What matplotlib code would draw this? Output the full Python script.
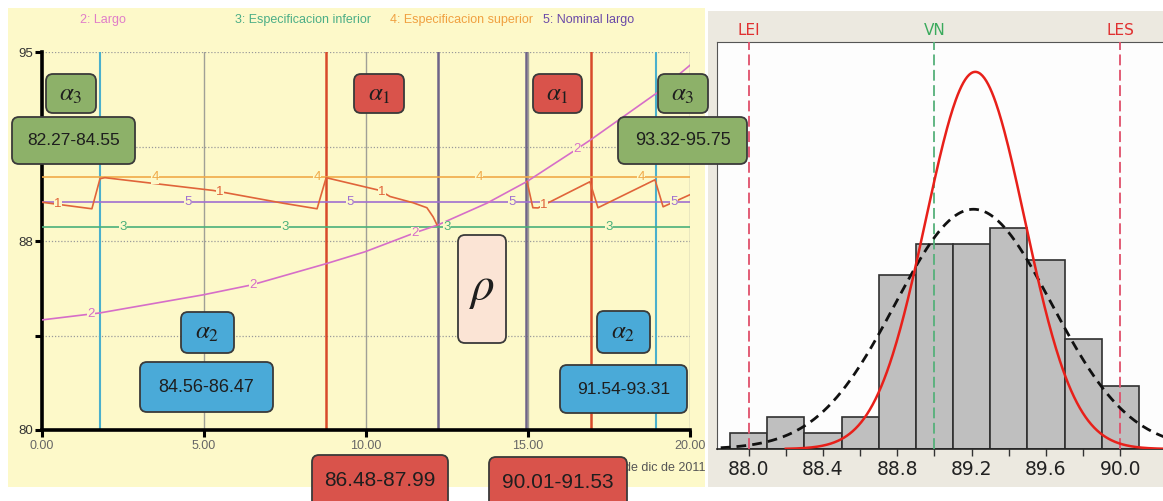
import matplotlib.pyplot as plt
import numpy as np
from matplotlib.patches import FancyBboxPatch, Rectangle
from matplotlib.transforms import blended_transform_factory

W, H = 1163, 501

plt.rcParams["font.family"] = ["Liberation Sans", "DejaVu Sans"]
plt.rcParams["mathtext.fontset"] = "stix"

# ---------------------------------------------------------------------------
# Left panel: simulation over days (levels in grid units, 80 .. 95 scale)
# ---------------------------------------------------------------------------
Y_TICK_LABELS = ["80", "", "88", "", "95"]
X_TICKS = [0, 5, 10, 15, 20]

# 1: measured length (sawtooth), drawn as two pieces
MEDIDO_T_A = [0.0, 1.54, 1.79, 1.94, 5.28, 7.44, 8.49, 8.77, 10.43, 10.74, 11.45, 11.88, 12.07, 12.19]
MEDIDO_L_A = [2.41, 2.341, 2.659, 2.67, 2.535, 2.40, 2.341, 2.67, 2.535, 2.471, 2.405, 2.352, 2.256, 2.172]
MEDIDO_T_B = [14.97, 15.15, 15.31, 16.91, 17.16, 18.92, 19.17, 20.0]
MEDIDO_L_B = [2.63, 2.352, 2.35, 2.627, 2.352, 2.648, 2.362, 2.49]

# 2: Largo
LARGO_T = [0.0, 1.79, 4.97, 6.48, 8.77, 9.97, 11.51, 12.22, 13.73, 14.97, 16.45, 16.93, 18.95, 20.0]
LARGO_L = [1.165, 1.239, 1.43, 1.536, 1.76, 1.886, 2.087, 2.17, 2.40, 2.63, 2.96, 3.07, 3.56, 3.86]

# 3, 4, 5: constant references
SPEC_INF = 2.143
SPEC_SUP = 2.673
NOMINAL = 2.412

EVENTS_BLUE = [1.79, 18.95]
EVENTS_RED = [8.77, 16.93]
EVENTS_PURPLE = [12.22, 14.94]

LEGEND_TEXT = ["2: Largo", "3: Especificacion inferior",
               "4: Especificacion superior", "5: Nominal largo"]
X_CAPTION = "de dic de 2011"

# ---------------------------------------------------------------------------
# Right panel: histogram of length with two normal fits
# ---------------------------------------------------------------------------
BIN_CENTERS = [88.0, 88.2, 88.4, 88.6, 88.8, 89.0, 89.2, 89.4, 89.6, 89.8, 90.0]
COUNTS = [1, 2, 1, 2, 11, 13, 13, 14, 12, 7, 4]
BIN_WIDTH = 0.2
FIT_NARROW = (89.22, 0.267)
FIT_WIDE = (89.21, 0.42)
LIMIT_NAMES = ["LEI", "VN", "LES"]
LIMIT_VALUES = [88.0, 89.0, 90.0]
HIST_TICKS = [88.0, 88.4, 88.8, 89.2, 89.6, 90.0]

# ---------------------------------------------------------------------------
# Annotation boxes (text, colour key)
# ---------------------------------------------------------------------------
BOX_TEXTS = [r"$\alpha_\mathit{3}$", "82.27-84.55", r"$\alpha_\mathit{1}$", r"$\alpha_\mathit{1}$",
             r"$\alpha_\mathit{3}$", "93.32-95.75", r"$\alpha_\mathit{2}$", "84.56-86.47",
             r"$\rho$", r"$\alpha_\mathit{2}$", "91.54-93.31", "86.48-87.99", "90.01-91.53"]
BOX_KINDS = ["g", "g", "r", "r", "g", "g", "b", "b", "p", "b", "b", "r", "r"]

BOX_COLORS = {"g": "#8db169", "r": "#d9534b", "b": "#4aaad8", "p": "#fbe4d5"}
# x0, y0, x1, y1 in pixels, font size
BOX_GEOM = [
    (46, 74, 96, 113, 18), (12, 117, 135, 164, 12.5),
    (354, 74, 404, 113, 18), (533, 74, 582, 113, 18), (658, 74, 708, 113, 18),
    (618, 117, 747, 164, 13), (181, 312, 234, 353, 18), (140, 362, 273, 412, 13),
    (458, 235, 506, 343, 34), (597, 311, 650, 353, 18), (560, 365, 687, 413, 12.5),
    (312, 455, 448, 515, 15), (489, 457, 627, 515, 15),
]


def frac(x0, y0, x1, y1):
    return [x0 / W, 1 - y1 / H, (x1 - x0) / W, (y1 - y0) / H]


fig = plt.figure(figsize=(W / 100, H / 100), dpi=100)

# panel backgrounds
bg = fig.add_axes([0, 0, 1, 1], zorder=0)
bg.set_xlim(0, W)
bg.set_ylim(H, 0)
bg.axis("off")
bg.add_patch(Rectangle((8, 8), 697, 479, facecolor="#fdf9c9", edgecolor="none"))
bg.add_patch(Rectangle((708, 11), W - 708, 476, facecolor="#ece9e0", edgecolor="none"))

legend_colors = ["#e07dc8", "#4bae86", "#f0a040", "#6a4aa8"]
legend_x = [80, 235, 390, 543]
for txt, col, lx in zip(LEGEND_TEXT, legend_colors, legend_x):
    bg.text(lx, 20, txt, color=col, fontsize=9, va="center", ha="left")
bg.text(705, 468, X_CAPTION, color="#555555", fontsize=9, va="center", ha="right")

# ---- left simulation chart
ax = fig.add_axes(frac(42, 52, 690, 430), zorder=2)
ax.set_facecolor("none")
ax.set_xlim(0, 20)
ax.set_ylim(0, 4)

for lv in [1, 2, 3, 4]:
    ax.axhline(lv, color="#9a9a9a", ls=(0, (1, 1.5)), lw=0.9, zorder=1)
for gx in [5, 10, 15, 20]:
    ax.axvline(gx, color="#a0a096", lw=1.0, zorder=1)
for ex in EVENTS_BLUE:
    ax.axvline(ex, color="#4ab0cc", lw=1.5, zorder=2)
for ex in EVENTS_RED:
    ax.axvline(ex, color="#d84a2a", lw=1.8, zorder=2)
for ex in EVENTS_PURPLE:
    ax.axvline(ex, color="#6e6488", lw=1.8, zorder=2)

c1, c2, c3, c4, c5 = "#e0643a", "#d66ec8", "#4bb07a", "#f0aa48", "#a070d0"
ax.axhline(SPEC_INF, color=c3, lw=1.2, zorder=3)
ax.axhline(SPEC_SUP, color=c4, lw=1.2, zorder=3)
ax.axhline(NOMINAL, color=c5, lw=1.2, zorder=3)
ax.plot(LARGO_T, LARGO_L, color=c2, lw=1.2, zorder=3)
ax.plot(MEDIDO_T_A, MEDIDO_L_A, color=c1, lw=1.2, zorder=3)
ax.plot(MEDIDO_T_B, MEDIDO_L_B, color=c1, lw=1.2, zorder=3)


def series_value(key, t):
    if key == 1:
        if t <= MEDIDO_T_A[-1]:
            return np.interp(t, MEDIDO_T_A, MEDIDO_L_A)
        return np.interp(t, MEDIDO_T_B, MEDIDO_L_B)
    if key == 2:
        return np.interp(t, LARGO_T, LARGO_L)
    return {3: SPEC_INF, 4: SPEC_SUP, 5: NOMINAL}[key]


for key, col in zip([1, 2, 3, 4, 5], [c1, c2, c3, c4, c5]):
    for k in range(4):
        t = key - 0.5 + 5 * k
        ax.text(t, series_value(key, t), str(key), color=col, fontsize=9.5,
                ha="center", va="center", zorder=4,
                bbox=dict(facecolor="#fdf9c9", edgecolor="none", pad=0.3))

ax.set_yticks(range(5))
ax.set_yticklabels(Y_TICK_LABELS)
ax.set_xticks(X_TICKS)
ax.set_xticklabels([f"{t:.2f}" for t in X_TICKS])
for side in ["top", "right"]:
    ax.spines[side].set_visible(False)
for side in ["left", "bottom"]:
    ax.spines[side].set_linewidth(2.6)
ax.tick_params(axis="both", direction="out", length=5, width=2.2)
ax.tick_params(axis="y", labelsize=9.5, labelcolor="#333333", pad=1.5)
ax.tick_params(axis="x", labelsize=9, labelcolor="#666666", pad=2)

# ---- right histogram
axh = fig.add_axes(frac(717, 42, W, 449), zorder=2)
axh.set_facecolor("#fdfdfd")
axh.set_xlim(87.83, 90.23)
axh.set_ylim(0, 25.8)
axh.bar(BIN_CENTERS, COUNTS, width=BIN_WIDTH, color="#bfbfbf",
        edgecolor="#303030", linewidth=1.2, zorder=2)

scale = sum(COUNTS) * BIN_WIDTH
xs = np.linspace(87.85, 90.25, 400)
mu, sd = FIT_WIDE
axh.plot(xs, scale * np.exp(-0.5 * ((xs - mu) / sd) ** 2) / (sd * np.sqrt(2 * np.pi)),
         color="#111111", lw=2.0, ls=(0, (3.5, 2.2)), zorder=4)
xs_r = np.linspace(88.2, 90.25, 400)
mu, sd = FIT_NARROW
axh.plot(xs_r, scale * np.exp(-0.5 * ((xs_r - mu) / sd) ** 2) / (sd * np.sqrt(2 * np.pi)),
         color="#e8201a", lw=1.8, zorder=5)

trans = blended_transform_factory(axh.transData, axh.transAxes)
limit_colors = ["#e0506a", "#55b07a", "#e0506a"]
label_colors = ["#e03030", "#3aaa5c", "#e03030"]
for name, val, lc, tc in zip(LIMIT_NAMES, LIMIT_VALUES, limit_colors, label_colors):
    axh.axvline(val, color=lc, lw=1.3, ls=(0, (6, 2.5)), zorder=3)
    axh.text(val, 1.028, name, transform=trans, color=tc, fontsize=11,
             family="DejaVu Sans", ha="center", va="center")

axh.set_xticks(HIST_TICKS)
axh.set_xticklabels([f"{t:.1f}" for t in HIST_TICKS], family="DejaVu Sans")
axh.set_xticks(np.array(HIST_TICKS[:-1]) + 0.2, minor=True)
axh.set_yticks([])
axh.spines["right"].set_visible(False)
axh.spines["top"].set_color("#555555")
axh.spines["left"].set_color("#555555")
axh.spines["bottom"].set_color("#222222")
axh.spines["bottom"].set_linewidth(1.2)
axh.tick_params(axis="x", which="both", direction="out", length=5, width=1,
                color="#333333", labelsize=13.5, labelcolor="#222222", pad=3)

# ---- annotation boxes on top of both panels
ov = fig.add_axes([0, 0, 1, 1], zorder=10)
ov.set_xlim(0, W)
ov.set_ylim(H, 0)
ov.axis("off")
ov.patch.set_visible(False)
for txt, kind, (x0, y0, x1, y1, fs) in zip(BOX_TEXTS, BOX_KINDS, BOX_GEOM):
    ov.add_patch(FancyBboxPatch((x0, y0), x1 - x0, y1 - y0,
                                boxstyle="round,pad=0,rounding_size=7",
                                facecolor=BOX_COLORS[kind], edgecolor="#3a3a3a", lw=1.3))
    cy = (y0 + y1) / 2 if y1 <= H else y0 + 25
    ov.text((x0 + x1) / 2, cy, txt, fontsize=fs, color="#1e1e1e",
            ha="center", va="center")

fig.savefig("out.png", dpi=100)
